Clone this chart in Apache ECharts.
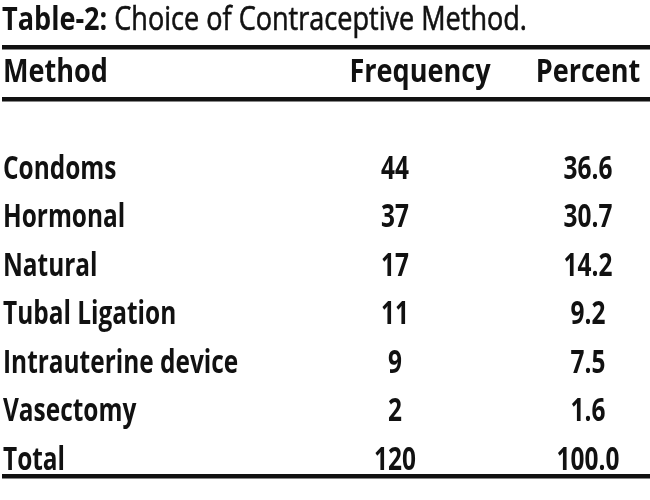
<!DOCTYPE html>
<html>
<head>
<meta charset="utf-8">
<script src="https://cdn.jsdelivr.net/npm/echarts@6/dist/echarts.min.js"></script>
<style>html,body{margin:0;padding:0;background:#fff}#c{width:650px;height:500px}</style>
</head>
<body>
<div id="c"></div>
<script>
const titleBold = 'Table-2:';
const titleRest = ' Choice of Contraceptive Method.';
const columns = ['Method', 'Frequency', 'Percent'];
const methods = ['Condoms', 'Hormonal', 'Natural', 'Tubal Ligation', 'Intrauterine device', 'Vasectomy', 'Total'];
const frequency = [44, 37, 17, 11, 9, 2, 120];
const percent = [36.6, 30.7, 14.2, 9.2, 7.5, 1.6, 100.0];

// layout (not data)
const FONT = '"Open Sans", "Noto Sans", sans-serif';
const FS = 33;
const SX = 0.74;
const HSX = 0.82;
const TSX = 0.82;
const headAnchor = [3, 420, 588];
const bodyAnchor = [3, 395, 588];
const aligns = ['left', 'center', 'center'];

const rows = ['__head', '__gap'].concat(methods);
const cells = [];
columns.forEach((c, j) => cells.push({value: [headAnchor[j], 0], text: c, align: aligns[j], sx: HSX}));
methods.forEach((m, i) => {
  const r = i + 2;
  cells.push({value: [bodyAnchor[0], r], text: m, align: aligns[0], sx: SX});
  cells.push({value: [bodyAnchor[1], r], text: String(frequency[i]), align: aligns[1], sx: SX});
  cells.push({value: [bodyAnchor[2], r], text: percent[i].toFixed(1), align: aligns[2], sx: SX});
});

const chart = echarts.init(document.getElementById('c'), null, {renderer: 'canvas'});
chart.setOption({
  backgroundColor: '#fff',
  animation: false,
  grid: {left: 0, right: 0, top: 48, bottom: 15.5},
  xAxis: {type: 'value', min: 0, max: 650, show: false},
  yAxis: {type: 'category', data: rows, inverse: true, show: false},
  graphic: [
    {
      type: 'text', x: 2, y: 21, scaleX: TSX,
      style: {
        x: 0, y: 0,
        text: '{b|' + titleBold + '}{r|' + titleRest + '}',
        verticalAlign: 'middle', align: 'left',
        rich: {
          b: {fontFamily: FONT, fontSize: FS, fontWeight: 'bold', fill: '#111'},
          r: {fontFamily: FONT, fontSize: FS, fontWeight: 'normal', fill: '#111', stroke: '#111', lineWidth: 0.6}
        }
      }
    },
    {type: 'rect', shape: {x: 2, y: 45, width: 648, height: 4.5}, style: {fill: '#111'}},
    {type: 'rect', shape: {x: 2, y: 97, width: 648, height: 4.5}, style: {fill: '#111'}},
    {type: 'rect', shape: {x: 2, y: 474, width: 648, height: 4.5}, style: {fill: '#111'}}
  ],
  series: [{
    type: 'custom',
    coordinateSystem: 'cartesian2d',
    data: cells,
    renderItem: function (params, api) {
      const p = api.coord([api.value(0), api.value(1)]);
      const item = cells[params.dataIndex];
      return {
        type: 'text',
        x: p[0], y: p[1], scaleX: item.sx,
        style: {
          x: 0, y: 0,
          text: item.text,
          fill: '#111',
          fontFamily: FONT,
          fontSize: FS,
          fontWeight: 'bold',
          align: item.align,
          verticalAlign: 'middle'
        }
      };
    }
  }]
});
</script>
</body>
</html>
